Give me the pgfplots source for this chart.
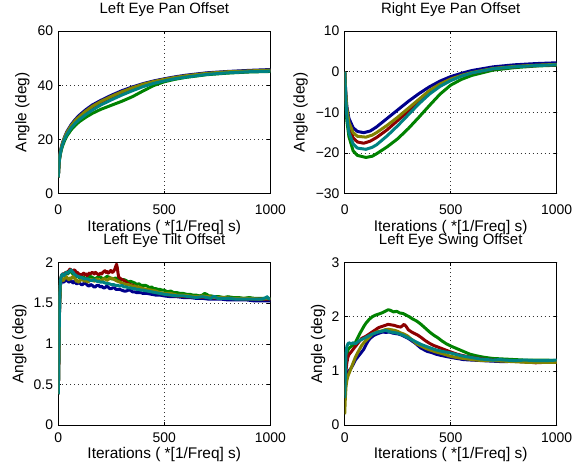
\documentclass[border=0pt]{standalone}
\usepackage{fontspec}
\setmainfont{Liberation Sans}
\usepackage{pgfplots}
\pgfplotsset{compat=1.18}
\definecolor{cB}{RGB}{0,0,140}
\definecolor{cR}{RGB}{140,0,0}
\definecolor{cG}{RGB}{0,130,0}
\definecolor{cO}{RGB}{130,130,0}
\definecolor{cT}{RGB}{0,130,130}
\pgfplotsset{mat/.style={
  scale only axis, width=212bp, height=162.5bp, anchor=south west,
  xmin=0, xmax=1000, xtick={0,500,1000}, xticklabels={0,500,1000},
  tick align=inside, major tick length=3bp, minor tick num=0,
  axis line style={line width=0.8bp, black},
  every tick/.style={line width=0.6bp, black},
  grid=major, grid style={black!80, line width=0.6bp, dash pattern=on 0.7bp off 3.3bp},
  ticklabel style={font=\fontsize{14}{16}\selectfont},
  yticklabel style={anchor=east, inner sep=0pt, xshift=-5bp},
  xlabel={Iterations ( *[1/Freq] s)},
  ylabel={Angle (deg)},
  label style={font=\fontsize{15.5}{18}\selectfont},
  title style={font=\fontsize{15}{18}\selectfont, at={(axis description cs:0.5,1)}, anchor=base, yshift=12bp, inner sep=0pt},
  every axis plot/.append style={line width=3bp, line join=round, mark=none},
}}
\begin{document}
\begin{tikzpicture}
\path[use as bounding box] (0,0) rectangle (585bp,468bp);
% ---------------- Left Eye Pan Offset
\begin{axis}[mat, at={(58.3bp,274.4bp)},
  ymin=0, ymax=60, ytick={0,20,40,60}, yticklabels={0,20,40,60},
  title={Left Eye Pan Offset},
  xticklabel style={anchor=base, inner sep=0pt, yshift=-20.5bp},
  xlabel style={at={(axis description cs:0.5,0)}, anchor=base, inner sep=0pt, yshift=-37.5bp},
  ylabel style={at={(axis description cs:-0.151,0.5)}, anchor=base, inner sep=0pt}]
\addplot[cB] coordinates {(0,6)(3,11)(6,13.5)(10,15.5)(15,17.3)(20,18.8)(30,21)(40,22.8)(60,25.4)(80,27.4)(100,29)(130,31)(160,32.7)(200,34.4)(250,36.3)(300,38)(350,39.4)(400,40.6)(450,41.6)(500,42.4)(550,43.1)(600,43.7)(700,44.6)(800,45.1)(900,45.5)(1000,45.8)};
\addplot[cG] coordinates {(0,6)(3,10.3)(6,12.7)(10,14.6)(15,16.3)(20,17.6)(30,19.6)(40,21.2)(60,23.5)(80,25.2)(100,26.6)(130,28.2)(160,29.6)(200,31.1)(250,32.6)(300,34.1)(350,35.8)(400,37.9)(450,39.9)(500,41.3)(550,42.2)(600,42.9)(700,43.9)(800,44.5)(900,44.9)(1000,45.1)};
\addplot[cR] coordinates {(0,6)(3,10.8)(6,13.2)(10,15.2)(15,17)(20,18.4)(30,20.5)(40,22.2)(60,24.6)(80,26.5)(100,28)(130,30)(160,31.7)(200,33.5)(250,35.5)(300,37.3)(350,38.8)(400,40.1)(450,41.2)(500,42)(550,42.7)(600,43.3)(700,44.2)(800,44.8)(900,45.1)(1000,45.4)};
\addplot[cO] coordinates {(0,6)(3,10.9)(6,13.4)(10,15.4)(15,17.2)(20,18.6)(30,20.8)(40,22.5)(60,25)(80,27)(100,28.5)(130,30.5)(160,32.2)(200,34)(250,35.9)(300,37.6)(350,39.1)(400,40.4)(450,41.4)(500,42.2)(550,42.9)(600,43.5)(700,44.4)(800,45)(900,45.3)(1000,45.6)};
\addplot[cT] coordinates {(0,6)(3,10.5)(6,13)(10,15)(15,16.7)(20,18.1)(30,20.2)(40,21.8)(60,24.2)(80,26)(100,27.4)(130,29.2)(160,30.8)(200,32.7)(250,34.6)(300,36.4)(350,38)(400,39.5)(450,40.7)(500,41.6)(550,42.4)(600,43)(700,44)(800,44.6)(900,45)(1000,45.2)};
\end{axis}
% ---------------- Right Eye Pan Offset
\begin{axis}[mat, at={(344.7bp,274.4bp)},
  ymin=-30, ymax=10, ytick={-30,-20,-10,0,10}, yticklabels={−30,−20,−10,0,10},
  title={Right Eye Pan Offset},
  xticklabel style={anchor=base, inner sep=0pt, yshift=-20.5bp},
  xlabel style={at={(axis description cs:0.5,0)}, anchor=base, inner sep=0pt, yshift=-37.5bp},
  ylabel style={at={(axis description cs:-0.189,0.5)}, anchor=base, inner sep=0pt}]
\addplot[cB] coordinates {(0,0)(5,-5)(10,-8.5)(20,-11.5)(40,-13.8)(60,-14.7)(90,-15)(120,-14.6)(150,-13.6)(200,-11.5)(250,-9.4)(300,-7.3)(350,-5.4)(400,-3.7)(450,-2.3)(500,-1.2)(550,-0.4)(600,0.3)(700,1.2)(800,1.7)(900,2.0)(1000,2.2)};
\addplot[cG] coordinates {(0,0)(5,-7)(10,-12)(20,-16)(40,-19.5)(60,-20.6)(100,-21.1)(130,-20.8)(150,-20.2)(200,-18.5)(250,-16.5)(300,-14)(350,-11.2)(400,-8.3)(450,-5.5)(500,-3.3)(550,-1.9)(600,-0.9)(700,0.4)(800,1.0)(900,1.4)(1000,1.6)};
\addplot[cR] coordinates {(0,0)(5,-6)(10,-10)(20,-13.5)(40,-16.3)(60,-17.3)(90,-17.6)(120,-17.1)(150,-16.2)(200,-14.3)(250,-12)(300,-9.8)(350,-7.4)(400,-5.2)(450,-3.4)(500,-2)(550,-1)(600,-0.3)(700,0.7)(800,1.2)(900,1.5)(1000,1.7)};
\addplot[cO] coordinates {(0,0)(5,-5.5)(10,-9)(20,-12.5)(40,-15)(60,-15.9)(100,-16.1)(130,-15.6)(150,-15)(200,-13.2)(250,-11.2)(300,-9)(350,-6.8)(400,-4.6)(450,-3)(500,-1.8)(550,-0.9)(600,-0.2)(700,0.8)(800,1.3)(900,1.6)(1000,1.8)};
\addplot[cT] coordinates {(0,0)(5,-6.5)(10,-11)(20,-15)(40,-17.8)(60,-18.8)(100,-19.1)(130,-18.6)(150,-18)(200,-15.8)(250,-13.3)(300,-10.6)(350,-7.9)(400,-5.5)(450,-3.6)(500,-2.2)(550,-1.1)(600,-0.3)(700,0.7)(800,1.2)(900,1.5)(1000,1.7)};
\end{axis}
% ---------------- Left Eye Tilt Offset
\begin{axis}[mat, at={(58.3bp,42.9bp)},
  ymin=0, ymax=2, ytick={0,0.5,1,1.5,2}, yticklabels={0,0.5,1,1.5,2},
  title={Left Eye Tilt Offset},
  xticklabel style={anchor=base, inner sep=0pt, yshift=-17.5bp},
  xlabel style={at={(axis description cs:0.5,0)}, anchor=base, inner sep=0pt, yshift=-33.5bp},
  ylabel style={at={(axis description cs:-0.165,0.5)}, anchor=base, inner sep=0pt}]
\addplot[cB] coordinates {(0,0.38)(3,0.9)(6,1.45)(10,1.72)(15,1.77)(20,1.78)(25,1.76)(30,1.77)(35,1.79)(40,1.79)(45,1.77)(50,1.76)(55,1.78)(60,1.78)(65,1.76)(70,1.75)(75,1.77)(80,1.76)(85,1.74)(90,1.74)(95,1.76)(100,1.75)(108,1.73)(115,1.73)(122,1.75)(130,1.74)(138,1.72)(145,1.71)(152,1.73)(160,1.72)(168,1.70)(175,1.70)(182,1.72)(190,1.72)(198,1.70)(205,1.71)(212,1.69)(220,1.69)(228,1.71)(235,1.70)(242,1.68)(250,1.68)(258,1.69)(265,1.69)(272,1.67)(280,1.67)(290,1.67)(300,1.66)(310,1.65)(320,1.65)(330,1.66)(340,1.66)(350,1.64)(360,1.64)(370,1.63)(380,1.63)(390,1.63)(400,1.62)(420,1.62)(440,1.61)(460,1.60)(480,1.60)(500,1.59)(530,1.58)(560,1.58)(590,1.57)(620,1.57)(650,1.56)(680,1.56)(710,1.55)(740,1.55)(770,1.55)(800,1.54)(830,1.54)(860,1.54)(890,1.54)(920,1.53)(950,1.53)(980,1.53)(1000,1.53)};
\addplot[cG] coordinates {(0,0.38)(3,0.95)(6,1.5)(10,1.78)(15,1.83)(20,1.85)(25,1.84)(30,1.86)(35,1.88)(40,1.87)(45,1.86)(50,1.88)(55,1.90)(60,1.89)(65,1.87)(70,1.86)(75,1.85)(80,1.84)(85,1.83)(90,1.82)(95,1.83)(100,1.81)(110,1.83)(120,1.82)(130,1.80)(140,1.81)(150,1.83)(160,1.82)(170,1.80)(180,1.81)(190,1.83)(200,1.82)(210,1.80)(220,1.81)(230,1.83)(240,1.82)(250,1.80)(260,1.80)(270,1.81)(280,1.80)(290,1.78)(300,1.79)(310,1.79)(320,1.78)(330,1.76)(340,1.77)(350,1.76)(360,1.75)(370,1.73)(380,1.74)(390,1.72)(400,1.72)(410,1.72)(420,1.71)(430,1.69)(440,1.70)(450,1.68)(460,1.68)(470,1.67)(480,1.67)(490,1.66)(500,1.66)(515,1.64)(530,1.65)(545,1.63)(560,1.63)(575,1.62)(590,1.62)(605,1.61)(620,1.61)(635,1.60)(650,1.60)(665,1.59)(680,1.60)(690,1.62)(700,1.61)(710,1.59)(720,1.59)(740,1.58)(760,1.58)(780,1.57)(800,1.58)(825,1.57)(850,1.57)(875,1.56)(900,1.57)(925,1.56)(950,1.56)(975,1.56)(1000,1.55)};
\addplot[cR] coordinates {(0,0.38)(3,0.9)(6,1.5)(10,1.78)(15,1.84)(20,1.86)(25,1.85)(30,1.87)(35,1.86)(40,1.88)(45,1.89)(50,1.90)(55,1.92)(60,1.91)(65,1.90)(70,1.89)(75,1.91)(80,1.90)(85,1.87)(90,1.88)(95,1.86)(100,1.86)(105,1.84)(110,1.85)(115,1.86)(120,1.87)(125,1.85)(130,1.86)(135,1.84)(140,1.85)(145,1.87)(150,1.86)(155,1.87)(160,1.88)(165,1.87)(170,1.86)(175,1.88)(180,1.87)(185,1.86)(190,1.85)(195,1.86)(200,1.87)(205,1.86)(210,1.88)(215,1.89)(220,1.90)(225,1.88)(230,1.89)(235,1.87)(240,1.88)(245,1.90)(250,1.90)(255,1.88)(260,1.89)(265,1.91)(268,1.93)(272,1.96)(275,1.98)(278,1.94)(280,1.90)(283,1.85)(285,1.82)(290,1.81)(295,1.80)(310,1.78)(330,1.74)(360,1.71)(400,1.67)(450,1.64)(500,1.61)(550,1.59)(600,1.58)(700,1.57)(800,1.56)(900,1.55)(1000,1.55)};
\addplot[cO] coordinates {(0,0.38)(3,0.9)(6,1.45)(10,1.74)(15,1.79)(20,1.80)(25,1.78)(30,1.81)(35,1.83)(40,1.82)(45,1.80)(50,1.79)(55,1.81)(60,1.80)(65,1.82)(70,1.83)(75,1.81)(80,1.80)(85,1.77)(90,1.78)(95,1.76)(100,1.77)(108,1.79)(115,1.79)(122,1.77)(130,1.78)(138,1.76)(145,1.77)(152,1.79)(160,1.79)(168,1.77)(175,1.78)(182,1.80)(190,1.79)(198,1.77)(205,1.78)(212,1.80)(220,1.80)(228,1.78)(235,1.79)(242,1.81)(250,1.81)(258,1.80)(265,1.79)(272,1.78)(280,1.77)(290,1.76)(300,1.75)(310,1.74)(320,1.73)(330,1.73)(340,1.72)(350,1.71)(360,1.71)(370,1.70)(380,1.70)(390,1.69)(400,1.68)(420,1.67)(440,1.66)(460,1.65)(480,1.63)(500,1.62)(530,1.62)(560,1.60)(590,1.60)(620,1.59)(650,1.58)(680,1.59)(710,1.58)(740,1.57)(780,1.57)(820,1.56)(860,1.56)(900,1.56)(950,1.55)(1000,1.56)};
\addplot[cT] coordinates {(0,0.38)(3,0.92)(6,1.5)(10,1.78)(15,1.84)(20,1.86)(25,1.84)(30,1.85)(35,1.87)(40,1.88)(45,1.87)(50,1.89)(55,1.90)(60,1.91)(65,1.89)(70,1.88)(75,1.86)(80,1.85)(85,1.84)(90,1.83)(95,1.83)(100,1.82)(108,1.82)(115,1.81)(122,1.80)(130,1.80)(138,1.80)(145,1.79)(152,1.78)(160,1.78)(168,1.79)(175,1.78)(182,1.77)(190,1.77)(198,1.76)(205,1.76)(212,1.76)(220,1.75)(230,1.74)(240,1.74)(250,1.73)(260,1.73)(270,1.72)(280,1.72)(290,1.71)(300,1.72)(310,1.70)(320,1.70)(330,1.69)(340,1.69)(350,1.68)(360,1.68)(370,1.67)(380,1.67)(390,1.66)(400,1.66)(420,1.65)(440,1.64)(460,1.63)(480,1.62)(500,1.61)(530,1.60)(560,1.59)(590,1.59)(620,1.58)(650,1.57)(680,1.58)(700,1.57)(720,1.56)(730,1.58)(740,1.58)(750,1.56)(760,1.56)(800,1.56)(840,1.55)(880,1.55)(920,1.55)(960,1.55)(980,1.57)(985,1.58)(990,1.56)(1000,1.55)};
\end{axis}
% ---------------- Left Eye Swing Offset
\begin{axis}[mat, at={(344.7bp,42.9bp)},
  ymin=0, ymax=3, ytick={0,1,2,3}, yticklabels={0,1,2,3},
  title={Left Eye Swing Offset},
  xticklabel style={anchor=base, inner sep=0pt, yshift=-17.5bp},
  xlabel style={at={(axis description cs:0.5,0)}, anchor=base, inner sep=0pt, yshift=-33.5bp},
  ylabel style={at={(axis description cs:-0.107,0.5)}, anchor=base, inner sep=0pt}]
\addplot[cB] coordinates {(0,0.85)(5,0.92)(10,0.95)(20,1.0)(30,1.05)(40,1.12)(50,1.2)(60,1.25)(70,1.30)(80,1.35)(90,1.40)(100,1.48)(110,1.55)(120,1.6)(135,1.65)(150,1.68)(165,1.7)(180,1.72)(195,1.71)(210,1.72)(225,1.70)(240,1.69)(255,1.68)(270,1.66)(285,1.63)(300,1.6)(315,1.56)(330,1.52)(345,1.47)(360,1.42)(375,1.39)(390,1.36)(410,1.34)(430,1.31)(450,1.29)(475,1.27)(500,1.25)(530,1.23)(560,1.21)(600,1.20)(650,1.19)(700,1.18)(750,1.17)(800,1.18)(850,1.17)(900,1.18)(950,1.18)(1000,1.18)};
\addplot[cG] coordinates {(0,0.55)(3,0.9)(6,1.15)(10,1.3)(15,1.38)(20,1.42)(30,1.45)(40,1.48)(50,1.52)(60,1.6)(70,1.68)(80,1.75)(90,1.82)(100,1.88)(115,1.95)(130,2.0)(145,2.03)(160,2.05)(175,2.07)(190,2.10)(205,2.13)(215,2.12)(230,2.09)(245,2.10)(260,2.07)(275,2.06)(290,2.03)(305,2.00)(320,1.96)(340,1.92)(360,1.86)(380,1.79)(400,1.72)(420,1.66)(440,1.61)(460,1.55)(480,1.50)(500,1.46)(530,1.41)(560,1.36)(590,1.31)(620,1.28)(660,1.25)(700,1.23)(750,1.22)(800,1.21)(850,1.20)(900,1.20)(950,1.20)(1000,1.19)};
\addplot[cR] coordinates {(0,0.55)(3,0.8)(6,1.0)(10,1.15)(15,1.25)(20,1.3)(30,1.35)(40,1.40)(50,1.45)(60,1.5)(70,1.55)(80,1.6)(90,1.62)(100,1.64)(115,1.68)(130,1.72)(145,1.76)(160,1.8)(175,1.82)(190,1.84)(205,1.86)(220,1.85)(235,1.84)(250,1.82)(265,1.81)(280,1.86)(290,1.82)(300,1.76)(315,1.72)(330,1.69)(345,1.66)(360,1.62)(380,1.56)(400,1.51)(420,1.47)(440,1.44)(460,1.41)(480,1.38)(500,1.35)(530,1.31)(560,1.28)(600,1.25)(650,1.22)(700,1.20)(750,1.19)(800,1.18)(850,1.17)(900,1.15)(950,1.16)(1000,1.17)};
\addplot[cO] coordinates {(0,0.2)(3,0.5)(6,0.7)(10,0.82)(15,0.9)(20,0.95)(30,1.05)(40,1.15)(50,1.25)(60,1.33)(70,1.4)(80,1.47)(90,1.52)(100,1.56)(115,1.62)(130,1.68)(145,1.71)(160,1.73)(175,1.74)(190,1.76)(205,1.77)(220,1.76)(235,1.75)(250,1.73)(265,1.70)(280,1.68)(295,1.65)(310,1.60)(325,1.55)(340,1.50)(360,1.46)(380,1.42)(400,1.39)(430,1.35)(460,1.32)(500,1.27)(540,1.24)(580,1.22)(620,1.20)(660,1.19)(700,1.19)(750,1.18)(800,1.17)(850,1.16)(900,1.16)(950,1.16)(1000,1.16)};
\addplot[cT] coordinates {(0,0.5)(3,0.9)(6,1.3)(10,1.45)(15,1.5)(20,1.52)(30,1.5)(40,1.52)(50,1.5)(60,1.53)(70,1.56)(80,1.58)(90,1.6)(100,1.62)(115,1.65)(130,1.68)(145,1.70)(160,1.72)(175,1.73)(190,1.75)(200,1.74)(215,1.72)(230,1.71)(245,1.70)(260,1.68)(275,1.66)(290,1.63)(305,1.60)(320,1.57)(340,1.53)(360,1.49)(380,1.46)(400,1.43)(430,1.39)(460,1.36)(490,1.34)(520,1.31)(550,1.28)(580,1.26)(610,1.24)(640,1.22)(670,1.21)(700,1.20)(730,1.21)(760,1.20)(800,1.19)(850,1.20)(900,1.19)(950,1.19)(1000,1.20)};
\end{axis}
\end{tikzpicture}
\end{document}
